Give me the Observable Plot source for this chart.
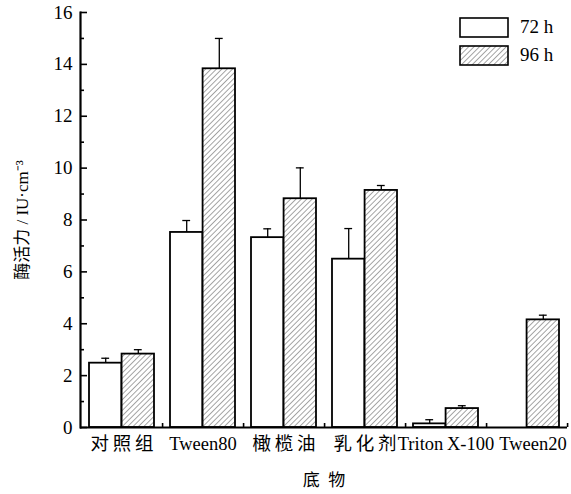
<!DOCTYPE html>
<html><head><meta charset="utf-8">
<script src="https://cdn.jsdelivr.net/npm/d3@7"></script>
<script src="https://cdn.jsdelivr.net/npm/@observablehq/plot@0.6"></script>
<style>
body{margin:0;background:#fff;}
#wrap{position:relative;width:571px;height:494px;font-family:"Liberation Serif","Noto Sans CJK SC",serif;}
#legend{position:absolute;left:459px;top:13px;font-size:19px;}
#legend .row{display:flex;align-items:center;height:28px;}
#legend svg{margin-right:11px;}
</style>
</head><body>
<div id="wrap"><div id="chart"></div><div id="legend"></div></div>
<script>
const categories = ["对照组","Tween80","橄榄油","乳化剂","Triton X-100","Tween20"];
const series = ["72 h","96 h"];
const v72 = [2.48, 7.52, 7.32, 6.49, 0.14, 0];
const e72 = [0.19, 0.46, 0.34, 1.18, 0.16, 0];
const v96 = [2.83, 13.83, 8.82, 9.14, 0.73, 4.15];
const e96 = [0.17, 1.17, 1.19, 0.19, 0.11, 0.18];
const majorTicks = [0,2,4,6,8,10,12,14,16];
const minorTicks = [1,3,5,7,9,11,13,15];

const rows = [];
categories.forEach((c,i)=>{
  rows.push({cat:c, s:"72 h", v:v72[i], e:e72[i]});
  rows.push({cat:c, s:"96 h", v:v96[i], e:e96[i]});
});
const data = rows.filter(d=>d.v>0);

const W=571,H=494,mL=80,mR=4,mT=12,mB=67;
const step=(W-mL-mR)/categories.length, pad=8, bw=(step-2*pad)/2, cap=4;
const inL = s => s==="72 h" ? pad : pad+bw;
const inR = s => s==="72 h" ? pad+bw : pad;
const off = s => s==="72 h" ? -bw/2 : bw/2;
const spaced = d => /[\u4e00-\u9fff]/.test(d) ? d.split("").join("\u2009") : d.replace(" ", "\u2009");
const lastCat = categories[categories.length-1];

const barsFor = s => Plot.barY(data.filter(d=>d.s===s), {
  x:"cat", y:"v", fill: s==="72 h" ? "white" : "url(#hatch)",
  stroke:"black", strokeWidth:1.8, insetLeft:inL(s), insetRight:inR(s)
});
const errFor = s => [
  Plot.ruleX(data.filter(d=>d.s===s), {x:"cat", y1:"v", y2:d=>d.v+d.e, dx:off(s), stroke:"black", strokeWidth:1.3}),
  Plot.tickY(data.filter(d=>d.s===s), {x:"cat", y:d=>d.v+d.e, stroke:"black", strokeWidth:1.3,
    insetLeft: pad + (s==="72 h"?0:bw) + bw/2 - cap, insetRight: step - (pad + (s==="72 h"?0:bw) + bw/2 + cap)})
];

const svg = Plot.plot({
  width:W, height:H, marginLeft:mL, marginRight:mR, marginTop:mT, marginBottom:mB,
  style:{fontFamily:'"Liberation Serif","Noto Sans CJK SC",serif', fontSize:"19px", color:"black", background:"white"},
  x:{domain:categories, paddingInner:0, paddingOuter:0, label:null, axis:null},
  y:{domain:[0,16], label:null, axis:null},
  marks:[
    ...errFor("72 h"), ...errFor("96 h"),
    barsFor("72 h"), barsFor("96 h"),
    Plot.axisY({ticks:majorTicks, tickSize:0, tickPadding:8, fontSize:19, label:null}),
    Plot.axisY({ticks:[], tickSize:0, label:"酶活力 / IU·cm⁻³", fontSize:17, labelAnchor:"center", labelOffset:65, labelArrow:"none", dy:-4}),
    Plot.axisY({ticks:majorTicks, tickSize:-7, tickFormat:()=>"", label:null, strokeWidth:1.6}),
    Plot.axisY({ticks:minorTicks, tickSize:-4, tickFormat:()=>"", label:null, strokeWidth:1.6}),
    Plot.axisX({ticks:categories.filter(c=>c!==lastCat), tickSize:0, tickPadding:9, fontSize:18.5, tickFormat:spaced, label:null}),
    Plot.axisX({ticks:[lastCat], tickSize:0, tickPadding:9, fontSize:18.5, tickFormat:spaced, label:null, dx:6}),
    Plot.axisX({ticks:[], tickSize:0, fontSize:17, label:"底\u2002物", labelAnchor:"center", labelOffset:58, labelArrow:"none", dx:-7}),
    Plot.axisX({ticks:categories, tickSize:-4, dx:step/2, tickFormat:()=>"", label:null, strokeWidth:1.6}),
    Plot.ruleY([0], {stroke:"black", strokeWidth:2}),
    Plot.frame({anchor:"left", stroke:"black", strokeWidth:2.2})
  ]
});
const defs = `<defs><pattern id="hatch" patternUnits="userSpaceOnUse" width="3.8" height="3.8" patternTransform="rotate(45)">
<rect width="3.8" height="3.8" fill="white"/><line x1="0" y1="0" x2="0" y2="3.8" stroke="black" stroke-width="0.7"/></pattern></defs>`;
svg.insertAdjacentHTML("afterbegin", defs);
document.getElementById("chart").appendChild(svg);

const lg = document.getElementById("legend");
series.forEach(s=>{
  const row=document.createElement("div"); row.className="row";
  const fill = s==="72 h" ? "white" : "url(#hatch)";
  row.innerHTML = `<svg width="50" height="21"><rect x="1" y="1" width="48" height="19" fill="${fill}" stroke="black" stroke-width="1.6"/></svg><span>${s}</span>`;
  lg.appendChild(row);
});
</script>
</body></html>
